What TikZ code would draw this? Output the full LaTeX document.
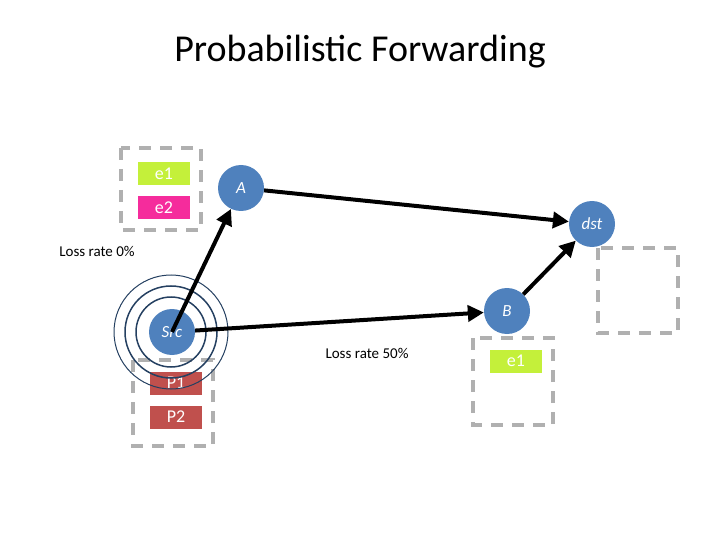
\documentclass[tikz,border=0pt]{standalone}
\usepackage{fontspec}
\setmainfont{Carlito}
\usetikzlibrary{arrows.meta}
\definecolor{nodeblue}{HTML}{4F81BD}
\definecolor{ringblue}{HTML}{254061}
\definecolor{lime}{HTML}{C4F03A}
\definecolor{mag}{HTML}{F52C9C}
\definecolor{pred}{HTML}{C0504D}
\definecolor{dgray}{HTML}{B0B0B0}
\begin{document}
\begin{tikzpicture}[x=1pt,y=-1pt,
  rnode/.style={circle,fill=nodeblue,minimum size=46pt,inner sep=0pt,text=white,font=\fontsize{17}{17}\selectfont\itshape},
  tag/.style={fill=#1,minimum width=52pt,minimum height=23pt,inner sep=0pt,text=white,font=\fontsize{18}{18}\selectfont},
  dbox/.style={draw=dgray,line width=4pt,dash pattern=on 12pt off 9pt},
  arr/.style={line width=4pt,-{Triangle[length=16pt,width=16pt]}},
  ring/.style={draw=ringblue,line width=1.5pt}]
\useasboundingbox (0,0) rectangle (720,540);
\node[font=\fontsize{38}{38}\selectfont] (title) at (360,52) {Probabilistic Forwarding};
\draw[dbox] (121,148) rectangle (201,230);
\draw[dbox] (133,360) rectangle (213,446);
\draw[dbox] (598,248) rectangle (678,333);
\draw[dbox] (473,338) rectangle (553,425);
\node[tag=lime] (e1a) at (164,174) {e1};
\node[tag=mag] (e2) at (164,208) {e2};
\node[tag=pred] (p1) at (176,383) {P1};
\node[tag=pred] (p2) at (176,417) {P2};
\node[tag=lime] (e1b) at (516,361) {e1};
\node[rnode] (A) at (241,188) {A};
\node[rnode] (dst) at (592,224) {dst};
\node[rnode] (B) at (507,311) {B};
\node[rnode] (src) at (172,332) {Src};
\draw[ring] (171,332) circle (35);
\draw[ring] (171,332) circle (46);
\draw[ring,line width=1pt] (171,332) circle (57);
\draw[arr] (src.center) ++(0,-0) -- (A);
\draw[arr] (A) -- (dst);
\draw[arr] (src) -- (B);
\draw[arr] (B) -- (dst);
\node[font=\fontsize{15}{15}\selectfont] (l0) at (97,251) {Loss rate 0\%};
\node[font=\fontsize{15}{15}\selectfont] (l50) at (367,353) {Loss rate 50\%};
\end{tikzpicture}
\end{document}
